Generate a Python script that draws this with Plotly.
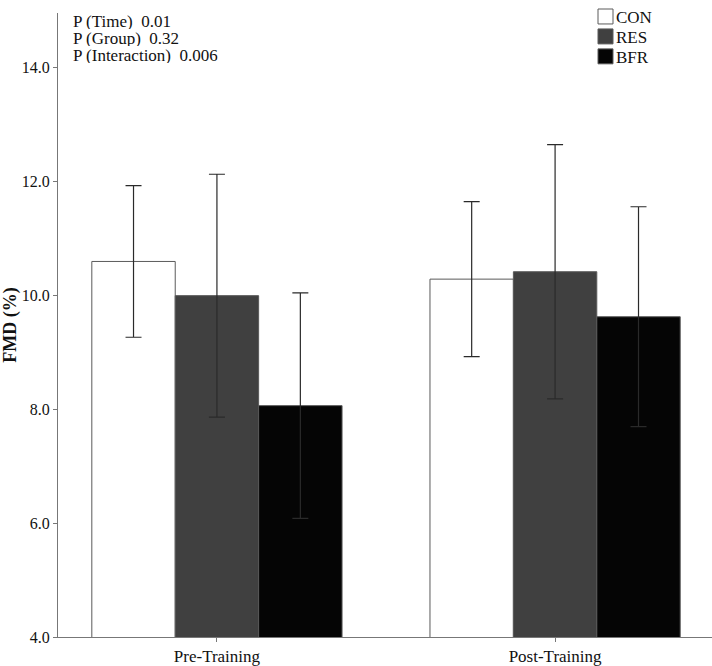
import plotly.graph_objects as go

# ---- data ----
timepoints = ["Pre-Training", "Post-Training"]
groups = ["CON", "RES", "BFR"]
con_mean = [10.59, 10.28]
con_err = [1.33, 1.36]
res_mean = [9.99, 10.41]
res_err = [2.13, 2.23]
bfr_mean = [8.06, 9.62]
bfr_err = [1.98, 1.93]
p_labels = ["P (Time)", "P (Group)", "P (Interaction)"]
p_values = ["0.01", "0.32", "0.006"]
y_ticks = [4.0, 6.0, 8.0, 10.0, 12.0, 14.0]

FONT = "Liberation Serif, Times New Roman, serif"
colors = ["#ffffff", "#404040", "#050505"]
means = [con_mean, res_mean, bfr_mean]
errs = [con_err, res_err, bfr_err]

fig = go.Figure()
for g, m, e, c in zip(groups, means, errs, colors):
    fig.add_trace(go.Bar(
        x=timepoints, y=m, name=g,
        marker=dict(color=c, line=dict(color="#5a5a5a", width=1)),
        error_y=dict(type="data", array=e, visible=True, color="#2a2a2a",
                     thickness=1.2, width=8),
        showlegend=False,
    ))

W, H = 712, 666
L, R, T, B = 58, 0, 13, 27
pw, ph = W - L - R, H - T - B

def px_x(x):
    return (x - L) / pw

def px_y(y):
    return (H - B - y) / ph

# custom legend
leg_tops = [9, 29, 49]
for g, c, top in zip(groups, colors, leg_tops):
    fig.add_shape(type="rect", xref="paper", yref="paper",
                  x0=px_x(598), x1=px_x(613), y0=px_y(top + 15), y1=px_y(top),
                  fillcolor=c, line=dict(color="#5a5a5a", width=1))
    fig.add_annotation(xref="paper", yref="paper", x=px_x(614), y=px_y(top + 9),
                       text=g, showarrow=False, xanchor="left", yanchor="middle",
                       font=dict(family=FONT, size=17, color="#111"))

# p-value annotations
for i, (lab, val) in enumerate(zip(p_labels, p_values)):
    fig.add_annotation(xref="paper", yref="paper", x=px_x(72), y=px_y(21.5 + 17 * i),
                       text=lab + "\u00a0\u00a0" + val, showarrow=False,
                       xanchor="left", yanchor="middle", height=16, borderpad=0,
                       font=dict(family=FONT, size=17, color="#111"))

fig.update_layout(
    width=W, height=H,
    margin=dict(l=L, r=R, t=T, b=B),
    paper_bgcolor="white", plot_bgcolor="white",
    barmode="group", bargap=0.26, bargroupgap=0,
    font=dict(family=FONT, size=16, color="#111"),
    xaxis=dict(range=[-0.47, 1.464], showline=True, linecolor="#777", linewidth=1,
               ticks="outside", ticklen=4, tickcolor="#777", showgrid=False,
               tickfont=dict(family=FONT, size=17)),
    yaxis=dict(range=[4, 14.95], tickvals=y_ticks, ticktext=[f"{v:.1f}" for v in y_ticks],
               showline=True, linecolor="#777", linewidth=1, ticks="outside",
               ticklen=4, tickcolor="#777", showgrid=False, zeroline=False,
               tickfont=dict(family=FONT, size=16),
               title=dict(text="<b>FMD (%)</b>", font=dict(family=FONT, size=18),
                          standoff=2)),
)

fig.write_html("out.html", config={"displayModeBar": False},
               post_script="document.body.style.margin='0';document.body.style.overflow='hidden';")
